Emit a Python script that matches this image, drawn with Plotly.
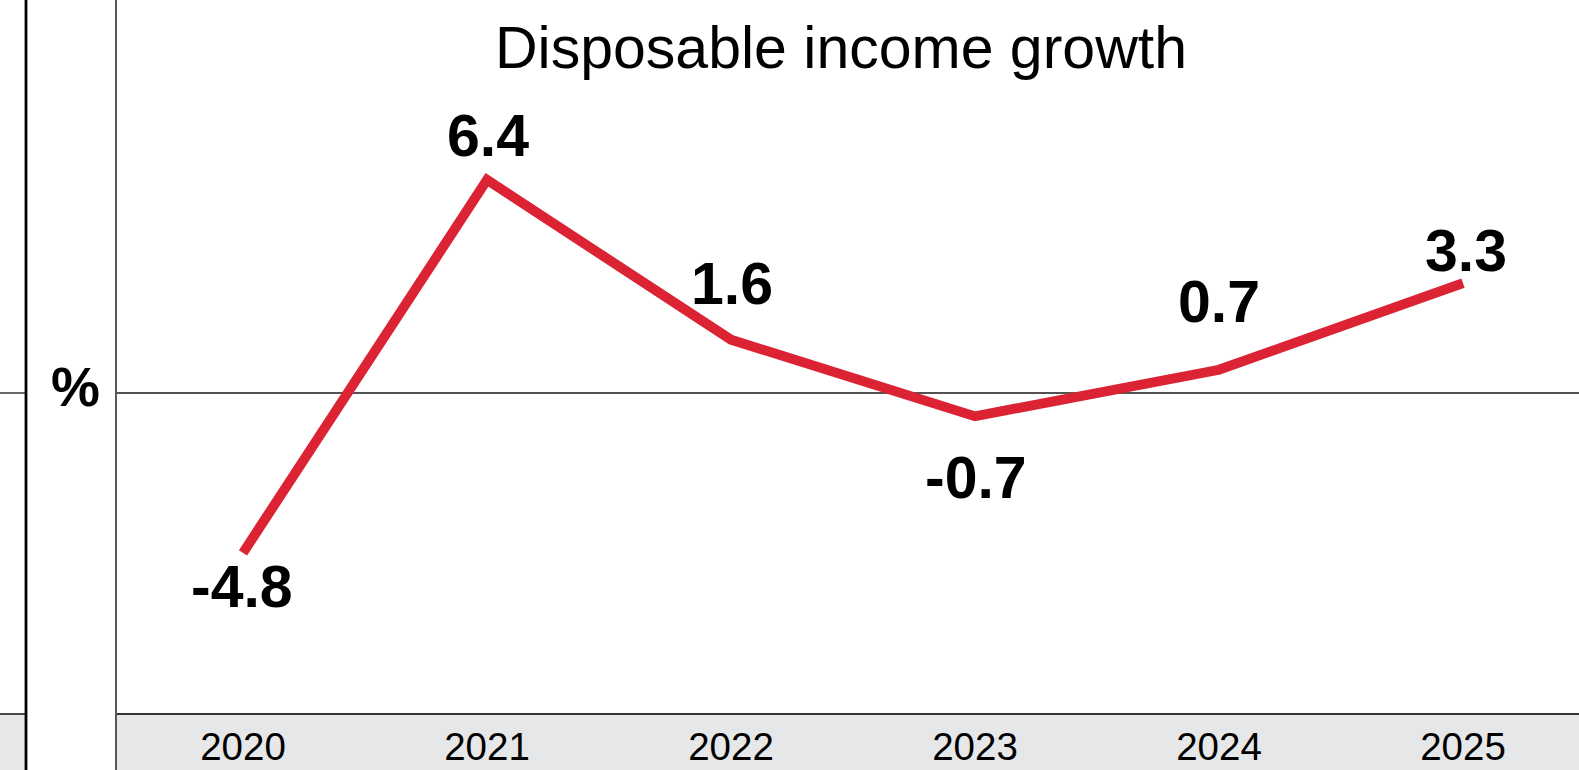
import plotly.graph_objects as go

# Annual disposable income growth, %
years = ["2020", "2021", "2022", "2023", "2024", "2025"]
growth = [-4.8, 6.4, 1.6, -0.7, 0.7, 3.3]
title_text = "Disposable income growth"
unit_label = "%"

# Label placement (pixel offsets from each point)
label_dy = [-34, 44, 56, -62, 68, 32]
label_dx = [-1, 1, 1, 1, 0, 3]

W, H = 1579, 770
ML, MB = 117, 56
PW, PH = W - ML, H - MB

RED = "#dc2334"
BAND = "#e6e7e8"
FONT = "Liberation Sans, Arial, Helvetica, sans-serif"


def px_x(p):
    return (p - ML) / PW


def px_y(p):
    return (PH - p) / PH


fig = go.Figure()
fig.add_trace(go.Scatter(
    x=years, y=growth, mode="lines",
    line=dict(color=RED, width=9.8),
    hoverinfo="skip", showlegend=False,
))

annotations = []
for i, (v, dy, dx) in enumerate(zip(growth, label_dy, label_dx)):
    annotations.append(dict(
        x=i, y=v, xref="x", yref="y", text=f"{v:.1f}", showarrow=False,
        xanchor="center", yanchor="middle", yshift=dy, xshift=dx,
        font=dict(family=FONT, size=59, color="black", weight="bold"),
    ))

annotations.append(dict(
    x=px_x(841), y=px_y(48), xref="paper", yref="paper", text=title_text,
    showarrow=False, xanchor="center", yanchor="middle",
    font=dict(family=FONT, size=59, color="black"),
))
annotations.append(dict(
    x=px_x(75), y=px_y(387), xref="paper", yref="paper", text=unit_label,
    showarrow=False, xanchor="center", yanchor="middle",
    font=dict(family=FONT, size=55, color="black", weight="bold"),
))

shapes = [
    # grey strip behind the year labels
    dict(type="rect", xref="paper", yref="paper", x0=0, x1=1,
         y0=px_y(H), y1=0, fillcolor=BAND, line_width=0, layer="below"),
    dict(type="rect", xref="paper", yref="paper", x0=px_x(0), x1=px_x(25),
         y0=px_y(H), y1=0, fillcolor=BAND, line_width=0, layer="below"),
    # strip top edge
    dict(type="line", xref="paper", yref="paper", x0=0, x1=1, y0=0, y1=0,
         line=dict(color="#333333", width=1.8), layer="above"),
    dict(type="line", xref="paper", yref="paper", x0=px_x(0), x1=px_x(25),
         y0=0, y1=0, line=dict(color="#333333", width=1.8), layer="above"),
    # zero lines
    dict(type="line", xref="paper", yref="y", x0=0, x1=1, y0=0, y1=0,
         line=dict(color="#1a1a1a", width=1.3), layer="below"),
    dict(type="line", xref="paper", yref="y", x0=px_x(0), x1=px_x(25),
         y0=0, y1=0, line=dict(color="#1a1a1a", width=1.3), layer="below"),
    # vertical rules
    dict(type="line", xref="paper", yref="paper", x0=px_x(26), x1=px_x(26),
         y0=px_y(H), y1=px_y(0), line=dict(color="black", width=2.8),
         layer="above"),
    dict(type="line", xref="paper", yref="paper", x0=px_x(116), x1=px_x(116),
         y0=px_y(H), y1=px_y(0), line=dict(color="#111111", width=1.4),
         layer="above"),
]

step = 244.0
x0 = -(243 - ML) / step
scale = 33.3
zero_px = 393
fig.update_layout(
    width=W, height=H,
    margin=dict(l=ML, r=0, t=0, b=MB, pad=0, autoexpand=False),
    paper_bgcolor="white", plot_bgcolor="white",
    xaxis=dict(
        type="category", range=[x0, x0 + PW / step],
        showgrid=False, zeroline=False, showline=False, ticks="",
        tickfont=dict(family=FONT, size=38.5, color="black"),
        ticklabelstandoff=6, automargin=False, fixedrange=True,
    ),
    yaxis=dict(
        range=[-(PH - zero_px) / scale, zero_px / scale],
        showgrid=False, zeroline=False, showline=False,
        showticklabels=False, ticks="", automargin=False, fixedrange=True,
    ),
    annotations=annotations,
    shapes=shapes,
)

fig.write_html("out.html", config={"displayModeBar": False})
